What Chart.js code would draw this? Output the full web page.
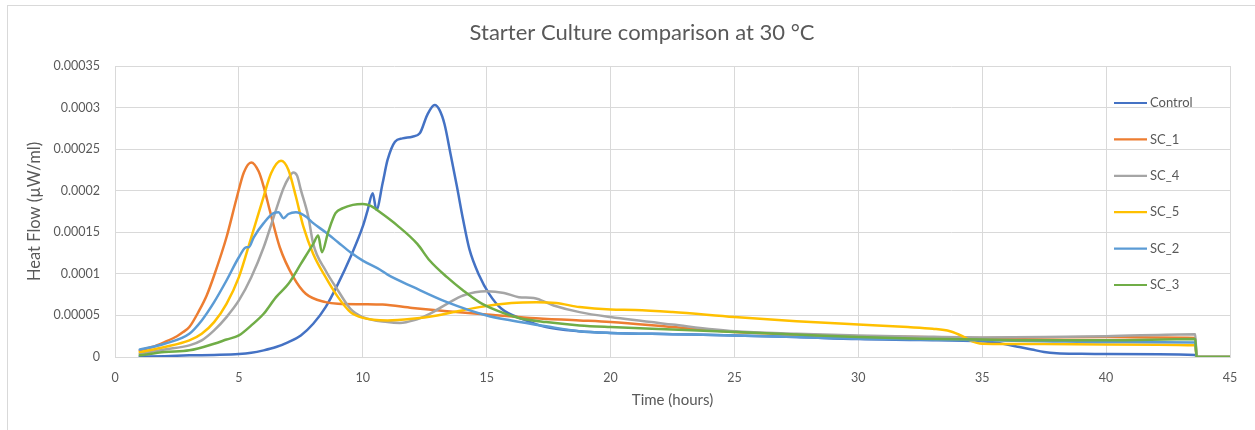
<!DOCTYPE html>
<html><head><meta charset="utf-8">
<script src="https://cdn.jsdelivr.net/npm/chart.js@4.4.1/dist/chart.umd.min.js"></script>
<style>html,body{margin:0;padding:0;background:#fff;}canvas{display:block;}</style>
</head><body>
<canvas id="c" width="1255" height="430"></canvas>
<script>
const chartTitle = 'Starter Culture comparison at 30 °C';
const xAxisTitle = 'Time (hours)';
const yAxisTitle = 'Heat Flow (µW/ml)';
const seriesNames = ['Control', 'SC_1', 'SC_4', 'SC_5', 'SC_2', 'SC_3'];
const seriesColors = ['#4472C4', '#ED7D31', '#A5A5A5', '#FFC000', '#5B9BD5', '#70AD47'];
const xTickValues = [0, 5, 10, 15, 20, 25, 30, 35, 40, 45];
const xTickLabels = ['0', '5', '10', '15', '20', '25', '30', '35', '40', '45'];
const yTickValues = [0, 0.00005, 0.0001, 0.00015, 0.0002, 0.00025, 0.0003, 0.00035];
const yTickLabels = ['0', '0.00005', '0.0001', '0.00015', '0.0002', '0.00025', '0.0003', '0.00035'];

const controlHours = [1, 2, 3, 4, 5, 5.5, 6, 6.5, 7, 7.5, 8, 8.5, 9, 9.5, 10, 10.2, 10.4, 10.55, 10.8, 11, 11.3, 11.6, 12, 12.3, 12.6, 12.9, 13.1, 13.3, 13.55, 13.8, 14.05, 14.3, 14.7, 15.1, 15.6, 16.5, 17.4, 18.7, 20, 22.5, 25, 27.5, 30, 32.5, 35, 35.5, 36, 36.5, 37, 37.5, 38, 39, 40, 43.6, 43.65, 45];
const controlFlow = [0.05e-5, 0.1e-5, 0.2e-5, 0.25e-5, 0.35e-5, 0.5e-5, 0.8e-5, 1.2e-5, 1.8e-5, 2.6e-5, 4.0e-5, 6.0e-5, 8.8e-5, 12.0e-5, 15.7e-5, 17.7e-5, 19.7e-5, 17.7e-5, 20.9e-5, 23.7e-5, 25.9e-5, 26.3e-5, 26.5e-5, 26.9e-5, 29.1e-5, 30.3e-5, 29.7e-5, 28.0e-5, 24.3e-5, 20.5e-5, 16.5e-5, 13.0e-5, 9.8e-5, 7.6e-5, 5.8e-5, 4.5e-5, 3.6e-5, 3.1e-5, 2.9e-5, 2.75e-5, 2.6e-5, 2.4e-5, 2.15e-5, 2.05e-5, 1.9e-5, 1.75e-5, 1.5e-5, 1.2e-5, 0.9e-5, 0.6e-5, 0.45e-5, 0.38e-5, 0.35e-5, 0.25e-5, 0, 0];

const sc1Hours = [1, 1.5, 2, 2.5, 2.75, 3, 3.4, 3.7, 4, 4.5, 4.9, 5.2, 5.5, 5.8, 6, 6.25, 6.65, 7.2, 7.7, 8.5, 9, 10, 10.8, 12, 13.4, 15, 16.75, 18.75, 20, 22.5, 25, 27.5, 30, 32.5, 35, 37.5, 40, 42, 43.6, 43.65, 45];
const sc1Flow = [0.8e-5, 1.2e-5, 1.8e-5, 2.5e-5, 3.0e-5, 3.6e-5, 5.6e-5, 7.4e-5, 9.8e-5, 14.4e-5, 19.0e-5, 22.2e-5, 23.4e-5, 22.3e-5, 20.5e-5, 17.6e-5, 13.2e-5, 9.6e-5, 7.6e-5, 6.6e-5, 6.4e-5, 6.35e-5, 6.3e-5, 5.9e-5, 5.5e-5, 5.1e-5, 4.7e-5, 4.4e-5, 4.2e-5, 3.6e-5, 3.0e-5, 2.7e-5, 2.5e-5, 2.4e-5, 2.3e-5, 2.35e-5, 2.4e-5, 2.35e-5, 2.3e-5, 0, 0];

const sc4Hours = [1, 2, 3, 3.5, 4, 4.5, 5, 5.5, 6, 6.5, 6.8, 7, 7.2, 7.35, 7.5, 7.8, 8, 8.5, 9, 9.5, 10, 11, 11.5, 12.05, 12.7, 13.4, 14.05, 15, 15.7, 16.3, 16.9, 17.7, 18.75, 20, 22.5, 25, 27.5, 30, 32.5, 35, 37.5, 40, 43.6, 43.65, 45];
const sc4Flow = [0.4e-5, 0.9e-5, 1.4e-5, 2.0e-5, 3.2e-5, 4.8e-5, 6.8e-5, 9.6e-5, 13.2e-5, 17.7e-5, 20.3e-5, 21.5e-5, 22.2e-5, 21.8e-5, 20.1e-5, 16.9e-5, 13.6e-5, 10.4e-5, 8.0e-5, 5.8e-5, 4.8e-5, 4.2e-5, 4.1e-5, 4.4e-5, 5.2e-5, 6.4e-5, 7.4e-5, 7.9e-5, 7.7e-5, 7.2e-5, 7.1e-5, 6.2e-5, 5.4e-5, 4.8e-5, 3.9e-5, 3.1e-5, 2.8e-5, 2.6e-5, 2.45e-5, 2.35e-5, 2.4e-5, 2.5e-5, 2.75e-5, 0, 0];

const sc5Hours = [1, 2, 3, 3.5, 4, 4.5, 5, 5.5, 6, 6.3, 6.7, 7, 7.3, 7.6, 8, 8.5, 9, 9.5, 10, 11, 12, 13, 14.7, 16, 17, 17.8, 18.75, 20, 21, 22.5, 25, 27.5, 30, 32, 33, 33.7, 34.2, 34.5, 35, 37.5, 40, 43.6, 43.65, 45];
const sc5Flow = [0.6e-5, 1.2e-5, 2.0e-5, 2.8e-5, 4.2e-5, 6.4e-5, 9.6e-5, 14.4e-5, 19.3e-5, 22.1e-5, 23.6e-5, 22.5e-5, 19.3e-5, 15.7e-5, 12.4e-5, 9.6e-5, 7.2e-5, 5.4e-5, 4.7e-5, 4.4e-5, 4.6e-5, 5.0e-5, 6.0e-5, 6.5e-5, 6.6e-5, 6.5e-5, 6.0e-5, 5.7e-5, 5.65e-5, 5.4e-5, 4.8e-5, 4.3e-5, 3.9e-5, 3.6e-5, 3.4e-5, 3.1e-5, 2.5e-5, 2.0e-5, 1.6e-5, 1.55e-5, 1.5e-5, 1.4e-5, 0, 0];

const sc2Hours = [1, 2, 3, 3.5, 4, 4.5, 5, 5.3, 5.4, 5.6, 6, 6.4, 6.6, 6.8, 7, 7.3, 7.7, 8, 8.5, 9, 9.5, 10, 10.7, 11, 12.05, 13.4, 15, 16, 17.4, 18.75, 20, 22.5, 25, 27.5, 30, 32.5, 35, 37.5, 40, 43.6, 43.65, 45];
const sc2Flow = [0.9e-5, 1.6e-5, 2.8e-5, 4.4e-5, 6.6e-5, 9.2e-5, 12.0e-5, 13.2e-5, 13.2e-5, 14.4e-5, 16.1e-5, 17.3e-5, 17.4e-5, 16.7e-5, 17.2e-5, 17.4e-5, 16.9e-5, 16.1e-5, 15.0e-5, 13.8e-5, 12.6e-5, 11.6e-5, 10.5e-5, 9.9e-5, 8.4e-5, 6.6e-5, 5.0e-5, 4.4e-5, 3.7e-5, 3.1e-5, 2.9e-5, 2.75e-5, 2.6e-5, 2.4e-5, 2.2e-5, 2.1e-5, 2.0e-5, 1.9e-5, 1.8e-5, 1.75e-5, 0, 0];

const sc3Hours = [1, 2, 3, 4, 4.5, 5, 5.5, 6, 6.5, 7, 7.5, 8, 8.2, 8.35, 8.6, 8.9, 9.2, 9.6, 10, 10.3, 10.7, 11.4, 12.2, 12.7, 13.4, 14.05, 14.7, 15.4, 16.3, 17.4, 18.75, 20, 22.5, 25, 27.5, 30, 32.5, 35, 37.5, 40, 43.6, 43.65, 45];
const sc3Flow = [0.2e-5, 0.6e-5, 0.8e-5, 1.6e-5, 2.1e-5, 2.6e-5, 3.8e-5, 5.2e-5, 7.2e-5, 8.8e-5, 11.2e-5, 13.6e-5, 14.6e-5, 12.6e-5, 15.0e-5, 17.3e-5, 17.9e-5, 18.3e-5, 18.4e-5, 18.2e-5, 17.4e-5, 15.8e-5, 13.6e-5, 11.6e-5, 9.6e-5, 8.0e-5, 6.6e-5, 5.6e-5, 4.7e-5, 4.2e-5, 3.8e-5, 3.6e-5, 3.3e-5, 3.0e-5, 2.7e-5, 2.4e-5, 2.2e-5, 2.1e-5, 2.0e-5, 2.0e-5, 2.15e-5, 0, 0];

const seriesHours = [controlHours, sc1Hours, sc4Hours, sc5Hours, sc2Hours, sc3Hours];
const seriesFlow = [controlFlow, sc1Flow, sc4Flow, sc5Flow, sc2Flow, sc3Flow];

const FONT = 'Lato, "Open Sans", sans-serif';
const TEXT = '#595959';
const GRID = '#D9D9D9';

const datasets = seriesNames.map((name, i) => ({
  label: name,
  data: seriesHours[i].map((h, j) => ({x: h, y: seriesFlow[i][j]})),
  borderColor: seriesColors[i],
  backgroundColor: seriesColors[i],
  borderWidth: 2.5,
  pointRadius: 0,
  fill: false,
  cubicInterpolationMode: 'monotone',
  borderCapStyle: 'round',
  borderJoinStyle: 'round',
  order: seriesNames.length - 1 - i
}));

const frameTitleLegend = {
  id: 'frameTitleLegend',
  beforeDraw(chart) {
    const ctx = chart.ctx;
    ctx.save();
    ctx.strokeStyle = GRID;
    ctx.lineWidth = 1;
    ctx.strokeRect(7.5, 5.5, 1270, 450);
    ctx.fillStyle = TEXT;
    ctx.font = '22px ' + FONT;
    ctx.textAlign = 'center';
    ctx.textBaseline = 'middle';
    ctx.fillText(chartTitle, 642, 33);
    ctx.restore();
  },
  afterDraw(chart) {
    const ctx = chart.ctx;
    ctx.save();
    const x0 = 1114, x1 = 1147, y0 = 103, step = 36.4;
    seriesNames.forEach((name, i) => {
      const y = y0 + i * step;
      ctx.strokeStyle = seriesColors[i];
      ctx.lineWidth = 2.2;
      ctx.beginPath();
      ctx.moveTo(x0, y);
      ctx.lineTo(x1, y);
      ctx.stroke();
      ctx.fillStyle = TEXT;
      ctx.font = '13px ' + FONT;
      ctx.textBaseline = 'middle';
      ctx.textAlign = 'left';
      ctx.fillText(name, x1 + 3, y);
    });
    ctx.restore();
  }
};

new Chart(document.getElementById('c'), {
  type: 'line',
  data: {datasets},
  options: {
    responsive: false,
    animation: false,
    devicePixelRatio: 1,
    layout: {padding: {left: 0, right: 25, top: 66, bottom: 0}},
    plugins: {
      legend: {display: false},
      tooltip: {enabled: false},
      title: {display: false}
    },
    scales: {
      x: {
        type: 'linear',
        min: 0, max: 45,
        afterBuildTicks: s => { s.ticks = xTickValues.map(v => ({value: v})); },
        afterFit: s => { s.height = 73; },
        ticks: {
          callback: (v, i) => xTickLabels[i],
          color: TEXT, font: {family: FONT, size: 12.5}, padding: 13, maxRotation: 0, autoSkip: false
        },
        grid: {color: GRID, lineWidth: 1, drawTicks: false},
        border: {display: true, color: GRID, width: 1},
        title: {display: true, text: xAxisTitle, color: TEXT, font: {family: FONT, size: 15, lineHeight: 1.2}, padding: {top: 4, bottom: 21}}
      },
      y: {
        type: 'linear',
        min: 0, max: 0.00035,
        afterBuildTicks: s => { s.ticks = yTickValues.map(v => ({value: v})); },
        afterFit: s => { s.width = 115; },
        ticks: {
          callback: (v, i) => yTickLabels[i],
          color: TEXT, font: {family: FONT, size: 12.5}, padding: 15, autoSkip: false
        },
        grid: {color: GRID, lineWidth: 1, drawTicks: false},
        border: {display: true, color: GRID, width: 1},
        title: {display: true, text: yAxisTitle, color: TEXT, font: {family: FONT, size: 16.5, lineHeight: 1.2}, padding: {top: 25, bottom: 4}}
      }
    }
  },
  plugins: [frameTitleLegend]
});
</script>
</body></html>
